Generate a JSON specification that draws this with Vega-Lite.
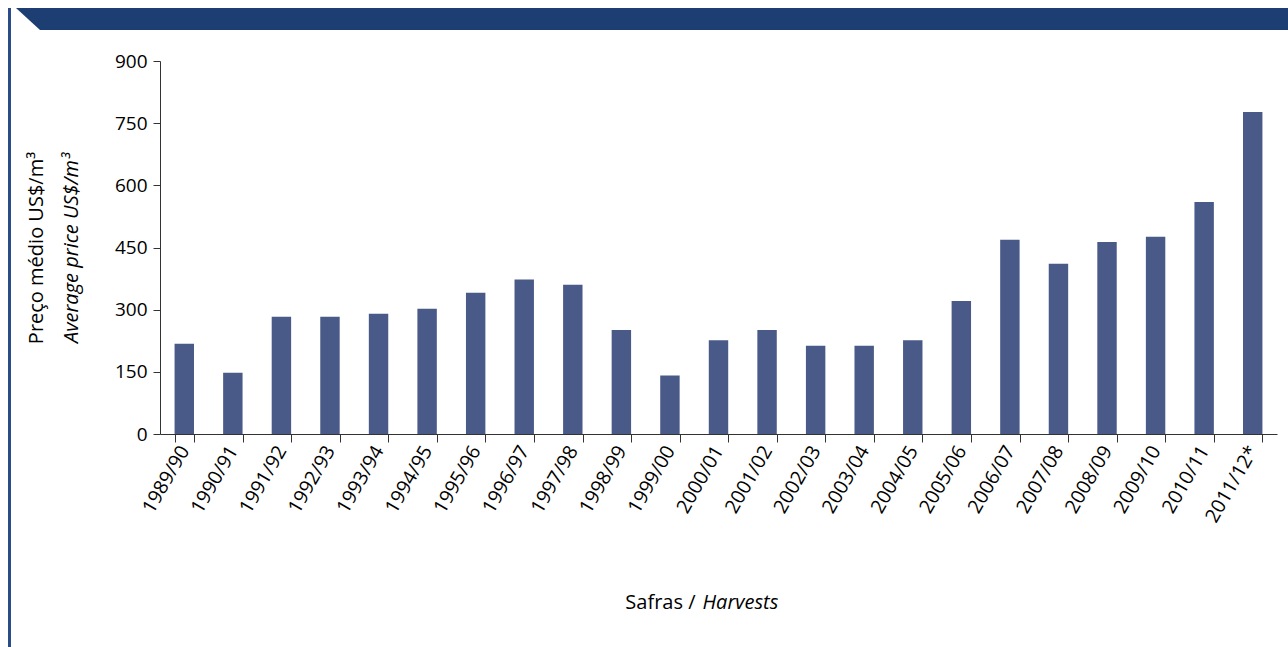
{
  "$schema": "https://vega.github.io/schema/vega-lite/v6.json",
  "padding": {"left": 6, "top": 8, "right": 0, "bottom": 0},
  "background": "white",
  "config": {"view": {"stroke": null}, "font": "Open Sans"},
  "datasets": {
    "precos": [
      {"safra": "1989/90", "preco": 218},
      {"safra": "1990/91", "preco": 148},
      {"safra": "1991/92", "preco": 283},
      {"safra": "1992/93", "preco": 283},
      {"safra": "1993/94", "preco": 290},
      {"safra": "1994/95", "preco": 302},
      {"safra": "1995/96", "preco": 341},
      {"safra": "1996/97", "preco": 373},
      {"safra": "1997/98", "preco": 360},
      {"safra": "1998/99", "preco": 251},
      {"safra": "1999/00", "preco": 141},
      {"safra": "2000/01", "preco": 226},
      {"safra": "2001/02", "preco": 251},
      {"safra": "2002/03", "preco": 213},
      {"safra": "2003/04", "preco": 213},
      {"safra": "2004/05", "preco": 226},
      {"safra": "2005/06", "preco": 321},
      {"safra": "2006/07", "preco": 469},
      {"safra": "2007/08", "preco": 411},
      {"safra": "2008/09", "preco": 463},
      {"safra": "2009/10", "preco": 476},
      {"safra": "2010/11", "preco": 560},
      {"safra": "2011/12*", "preco": 777}
    ],
    "faixa": [
      {"bx": 0, "by": 0, "by2": 22},
      {"bx": 24, "by": 0, "by2": 0}
    ],
    "vazio": [{"k": 1}]
  },
  "spacing": 0,
  "hconcat": [
    {
      "data": {"name": "vazio"},
      "width": 3,
      "height": 639,
      "view": {"fill": "#2a4c88", "stroke": null},
      "mark": {"type": "point", "opacity": 0},
      "encoding": {}
    },
    {
      "spacing": 22,
      "vconcat": [
        {
          "data": {"name": "faixa"},
          "width": 1279,
          "height": 22,
          "view": {"fill": "#1c3e72", "stroke": null},
          "mark": {"type": "area", "color": "white", "opacity": 1},
          "encoding": {
            "x": {"field": "bx", "type": "quantitative", "scale": {"domain": [0, 1279], "nice": false, "zero": false}, "axis": null},
            "y": {"field": "by", "type": "quantitative", "scale": {"domain": [0, 22], "nice": false, "zero": false}, "axis": null},
            "y2": {"field": "by2"}
          }
        },
        {
          "spacing": 6,
          "hconcat": [
            {
              "data": {"name": "vazio"},
              "width": 1,
              "height": 1,
              "mark": {"type": "point", "opacity": 0},
              "encoding": {}
            },
            {
              "data": {"name": "precos"},
              "width": 1117,
              "height": 373,
              "layer": [
                {
                  "mark": {"type": "bar", "color": "#4a5a88"},
                  "encoding": {
                    "x": {
                      "field": "safra", "type": "nominal", "sort": null,
                      "scale": {"paddingInner": 0.6, "paddingOuter": 0.3},
                      "axis": {
                        "title": "Safras /", "titleFontWeight": "normal", "titleFontSize": 20, "titleColor": "black",
                        "titleX": 535, "titleY": 174, "titleAlign": "right", "titleBaseline": "alphabetic",
                        "labelAngle": -60, "labelAlign": "right", "labelBaseline": "middle",
                        "labelFontSize": 19.5, "labelColor": "black", "labelPadding": 5, "labelOverlap": false,
                        "tickBand": "extent", "tickSize": 8, "tickColor": "#333", "domainColor": "#333", "grid": false
                      }
                    },
                    "y": {
                      "field": "preco", "type": "quantitative",
                      "scale": {"domain": [0, 900], "nice": false},
                      "axis": {
                        "values": [0, 150, 300, 450, 600, 750, 900],
                        "title": "Average price US$/m³", "titleFontStyle": "italic", "titleFontWeight": "normal",
                        "titleFontSize": 20, "titleColor": "black", "titlePadding": 33, "minExtent": 0,
                        "labelFontSize": 19, "labelColor": "black", "labelPadding": 6,
                        "grid": false, "tickSize": 7, "tickColor": "#333", "domainColor": "#333"
                      }
                    }
                  }
                },
                {
                  "mark": {"type": "bar", "opacity": 0},
                  "encoding": {
                    "x": {
                      "field": "safra", "type": "nominal", "sort": null,
                      "scale": {"paddingInner": 0.6, "paddingOuter": 0.3},
                      "axis": {
                        "orient": "bottom", "title": "Harvests", "titleFontStyle": "italic", "titleFontWeight": "normal",
                        "titleFontSize": 20, "titleColor": "black",
                        "titleX": 542, "titleY": 174, "titleAlign": "left", "titleBaseline": "alphabetic",
                        "labels": false, "ticks": false, "domain": false, "grid": false
                      }
                    },
                    "y": {
                      "field": "preco", "type": "quantitative",
                      "scale": {"domain": [0, 900], "nice": false},
                      "axis": {
                        "orient": "left", "title": "Preço médio US$/m³", "titleFontWeight": "normal",
                        "titleFontSize": 20, "titleColor": "black", "titlePadding": 114, "minExtent": 0,
                        "labels": false, "ticks": false, "domain": false, "grid": false
                      }
                    }
                  }
                }
              ],
              "resolve": {
                "scale": {"x": "independent", "y": "independent"},
                "axis": {"x": "independent", "y": "independent"}
              }
            }
          ]
        }
      ]
    }
  ]
}
